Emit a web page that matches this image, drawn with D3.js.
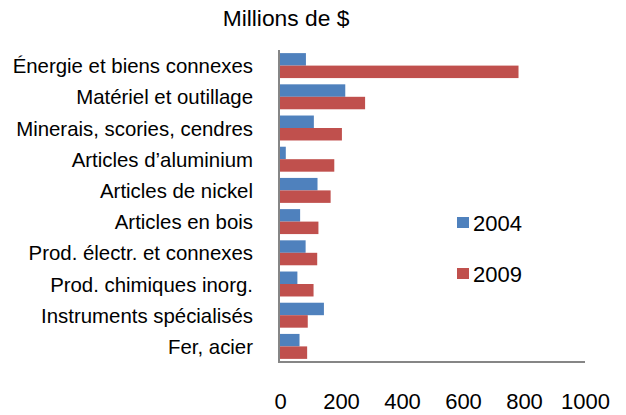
<!DOCTYPE html>
<html>
<head>
<meta charset="utf-8">
<script src="https://cdn.jsdelivr.net/npm/d3@7"></script>
<style>
  html, body { margin: 0; padding: 0; background: #fff; }
  svg { display: block; font-family: "Liberation Sans", Arial, sans-serif; }
</style>
</head>
<body>
<svg id="chart" width="626" height="415"></svg>
<script>
const categories = [
  "Énergie et biens connexes",
  "Matériel et outillage",
  "Minerais, scories, cendres",
  "Articles d’aluminium",
  "Articles de nickel",
  "Articles en bois",
  "Prod. électr. et connexes",
  "Prod. chimiques inorg.",
  "Instruments spécialisés",
  "Fer, acier"
];
const seriesNames = ["2004", "2009"];
const values2004 = [85, 214, 111, 19, 123, 66, 84, 57, 144, 64];
const values2009 = [782, 279, 203, 178, 166, 126, 122, 110, 91, 89];
const xTicks = [0, 200, 400, 600, 800, 1000];
const title = "Millions de $";
const colors = ["#4F81BD", "#C0504D"];

const seriesValues = [values2004, values2009];
const svg = d3.select("#chart");

const x = d3.scaleLinear().domain([0, 1000]).range([280, 585]);
const y = d3.scaleBand().domain(categories).range([50, 362]).paddingInner(0.2).paddingOuter(0.1);
const ySub = d3.scaleBand().domain(seriesNames).range([0, y.bandwidth()]);

// title
svg.append("text")
  .attr("x", 286).attr("y", 26)
  .attr("text-anchor", "middle")
  .attr("font-size", 22.8)
  .attr("fill", "#000")
  .text(title);

// bars
categories.forEach((c, i) => {
  seriesNames.forEach((s, j) => {
    svg.append("rect")
      .attr("x", x(0))
      .attr("y", y(c) + ySub(s))
      .attr("width", x(seriesValues[j][i]) - x(0))
      .attr("height", ySub.bandwidth())
      .attr("fill", colors[j]);
  });
});

// category labels
svg.append("g").selectAll("text").data(categories).join("text")
  .attr("x", 253)
  .attr("y", d => y(d) + y.bandwidth() / 2 + 7.5)
  .attr("text-anchor", "end")
  .attr("font-size", 20.4)
  .attr("fill", "#000")
  .text(d => d);

// axes lines
svg.append("line")
  .attr("x1", 279).attr("x2", 279)
  .attr("y1", 50).attr("y2", 363)
  .attr("stroke", "#868686").attr("stroke-width", 2);
svg.append("line")
  .attr("x1", 278).attr("x2", x(1000))
  .attr("y1", 362).attr("y2", 362)
  .attr("stroke", "#868686").attr("stroke-width", 2);

// x tick labels
const xAxis = d3.axisBottom(x).tickValues(xTicks).tickSize(0).tickPadding(0).tickFormat(d3.format("d"));
const gx = svg.append("g").attr("transform", "translate(0,393)").call(xAxis);
gx.select(".domain").remove();
gx.selectAll("text")
  .attr("font-size", 22)
  .attr("font-family", "Liberation Sans, Arial, sans-serif")
  .attr("fill", "#000")
  .attr("dy", "0.71em");

// legend
const legendY = [223, 274];
seriesNames.forEach((s, j) => {
  svg.append("rect")
    .attr("x", 457).attr("y", legendY[j] - 6)
    .attr("width", 12).attr("height", 11)
    .attr("fill", colors[j]);
  svg.append("text")
    .attr("x", 473).attr("y", legendY[j] + 8)
    .attr("font-size", 22)
    .attr("fill", "#000")
    .text(s);
});
</script>
</body>
</html>
